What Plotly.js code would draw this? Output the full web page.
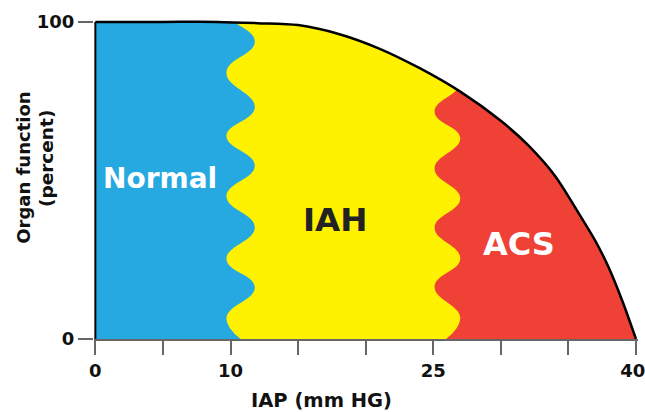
<!DOCTYPE html>
<html>
<head>
<meta charset="utf-8">
<script src="https://cdn.plot.ly/plotly-3.0.1.min.js"></script>
<style>html,body{margin:0;padding:0;background:#fff;}#chart{width:645px;height:412px;}</style>
</head>
<body>
<div id="chart"></div>
<script>
// Organ-function curve (IAP mm Hg vs percent)
var curveX = [0, 5, 9, 12, 15, 18, 21, 24, 27, 30, 32, 34, 36, 37, 38, 39, 40];
var curveY = [100, 100, 100, 99.6, 99, 96.2, 91.6, 85.4, 78, 68.8, 61.2, 51.5, 38, 30.9, 22.4, 11.9, 0];

// Wavy boundary Normal | IAH (read extremes, top to bottom)
var normalEdgeX = [11.8, 9.7, 11.8, 9.7, 11.8, 9.7, 11.8, 9.7, 11.8, 9.7, 11.8, 9.7, 11.8];
var normalEdgeY = [113.3, 103.5, 93.8, 84, 73.1, 64, 54.7, 45, 35.2, 25.2, 16.3, 6.4, -3];

// Wavy boundary IAH | ACS (read extremes, top to bottom)
var iahEdgeX = [25.1, 27.0, 25.1, 27.0, 25.1, 27.0, 25.1, 27.0, 25.1, 27.0, 25.1, 27.0, 25.1];
var iahEdgeY = [109.5, 100, 90.5, 81, 71.7, 63.3, 53.7, 44.3, 35.1, 25.4, 16.5, 6.5, -2.5];

var xTickVals = [0, 5, 10, 15, 20, 25, 30, 35, 40];
var xTickText = ['0', '', '10', '', '', '25', '', '', '40\u00a0'];
var yTickVals = [0, 100];
var yTickText = ['0', '100'];

var zoneNames = ['Normal', 'IAH', 'ACS'];
var zoneColors = ['#26A9E0', '#FFF200', '#EF4136'];

var xRange = [-0.1, 40.15];
var yRange = [0, 100.6];

var FONT = 'DejaVu Sans, Verdana, sans-serif';

var traces = [
  // ACS (red) : whole area under the curve
  {x: curveX, y: curveY, mode: 'lines', line: {width: 0, shape: 'spline', smoothing: 0.8},
   fill: 'tozeroy', fillcolor: zoneColors[2], hoverinfo: 'skip', showlegend: false},
  // IAH (yellow) : left of IAH/ACS boundary
  {x: iahEdgeX, y: iahEdgeY, mode: 'lines', line: {width: 0, shape: 'spline', smoothing: 1.3},
   fill: 'tozerox', fillcolor: zoneColors[1], hoverinfo: 'skip', showlegend: false},
  // Normal (blue) : left of Normal/IAH boundary
  {x: normalEdgeX, y: normalEdgeY, mode: 'lines', line: {width: 0, shape: 'spline', smoothing: 1.3},
   fill: 'tozerox', fillcolor: zoneColors[0], hoverinfo: 'skip', showlegend: false},
  // mask top (invisible)
  {x: [xRange[0] - 1, xRange[1] + 1], y: [yRange[1] + 10, yRange[1] + 10], mode: 'lines',
   line: {width: 0}, hoverinfo: 'skip', showlegend: false},
  // curve line + white mask above it
  {x: curveX, y: curveY, mode: 'lines', line: {color: '#000', width: 2.5, shape: 'spline', smoothing: 0.8},
   fill: 'tonexty', fillcolor: '#ffffff', hoverinfo: 'skip', showlegend: false},
  // left edge of the function area
  {x: [curveX[0], curveX[0]], y: [0, curveY[0]], mode: 'lines', line: {color: '#000', width: 2},
   hoverinfo: 'skip', showlegend: false}
];

var layout = {
  width: 645, height: 412,
  margin: {l: 94, r: 7, t: 20, b: 73},
  paper_bgcolor: '#fff', plot_bgcolor: '#fff',
  showlegend: false,
  xaxis: {
    range: xRange, showgrid: false, zeroline: false,
    showline: true, linecolor: '#666', linewidth: 2,
    ticks: 'outside', ticklen: 14, tickwidth: 2, tickcolor: '#666',
    tickvals: xTickVals, ticktext: xTickText, ticklabeloverflow: 'allow',
    tickfont: {family: FONT, size: 18, color: '#111', weight: 'bold'}
  },
  yaxis: {
    range: yRange, showgrid: false, zeroline: false, showline: false,
    ticks: 'outside', ticklen: 15, tickwidth: 2, tickcolor: '#666',
    tickvals: yTickVals, ticktext: yTickText, ticklabeloverflow: 'allow',
    tickfont: {family: FONT, size: 18, color: '#111', weight: 'bold'}
  },
  annotations: [
    {text: 'IAP (mm HG)', xref: 'paper', yref: 'paper', x: 0.4186, y: -0.193,
     xanchor: 'center', yanchor: 'middle', showarrow: false,
     font: {family: FONT, size: 19.5, color: '#111', weight: 'bold'}},
    {text: 'Organ function', xref: 'paper', yref: 'paper', x: -0.130, y: 0.5376, textangle: -90,
     xanchor: 'center', yanchor: 'middle', showarrow: false,
     font: {family: FONT, size: 18, color: '#111', weight: 'bold'}},
    {text: '(percent)', xref: 'paper', yref: 'paper', x: -0.0869, y: 0.5665, textangle: -90,
     xanchor: 'center', yanchor: 'middle', showarrow: false,
     font: {family: FONT, size: 18.5, color: '#111', weight: 'bold'}},
    {text: zoneNames[0], x: 4.80, y: 50.7, xanchor: 'center', yanchor: 'middle', showarrow: false,
     font: {family: FONT, size: 28, color: '#fff', weight: 'bold'}},
    {text: zoneNames[1], x: 17.73, y: 37.5, xanchor: 'center', yanchor: 'middle', showarrow: false,
     font: {family: FONT, size: 32.5, color: '#222', weight: 'bold'}},
    {text: zoneNames[2], x: 31.35, y: 30.0, xanchor: 'center', yanchor: 'middle', showarrow: false,
     font: {family: FONT, size: 32, color: '#fff', weight: 'bold'}}
  ]
};

Plotly.newPlot('chart', traces, layout, {displayModeBar: false, staticPlot: true});
</script>
</body>
</html>
